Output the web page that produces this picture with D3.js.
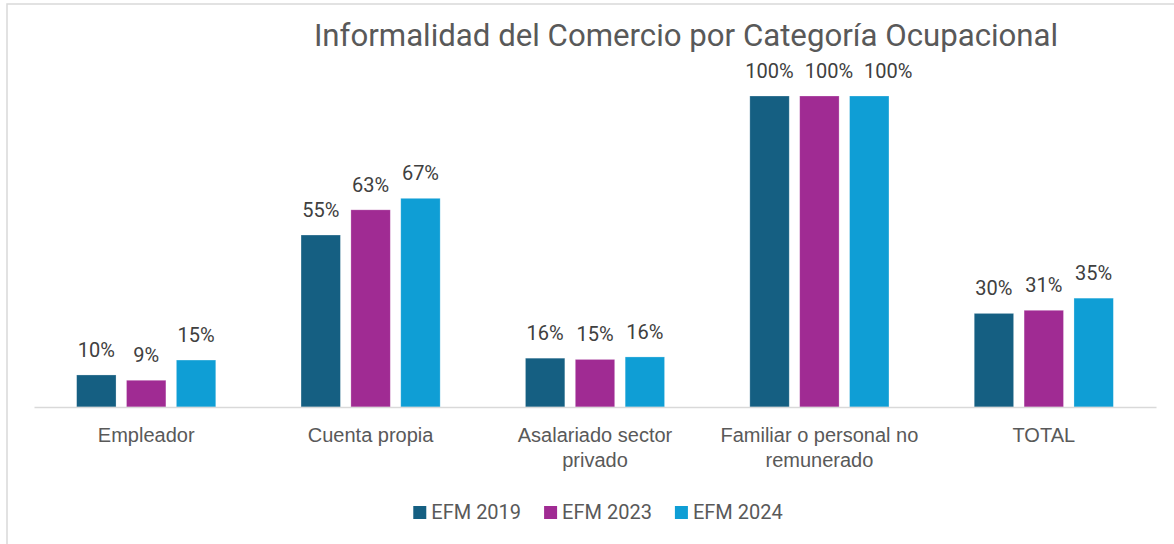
<!DOCTYPE html>
<html>
<head>
<meta charset="utf-8">
<script src="https://cdn.jsdelivr.net/npm/d3@7"></script>
<style>
  html, body { margin: 0; padding: 0; background: #fff; }
  svg { display: block; font-family: Roboto, "Liberation Sans", sans-serif; }
</style>
</head>
<body>
<div id="wrapper"></div>
<script>
// chart data
const chartTitle = "Informalidad del Comercio por Categoría Ocupacional";
const categories = ["Empleador", "Cuenta propia", "Asalariado sector\nprivado", "Familiar o personal no\nremunerado", "TOTAL"];
const seriesNames = ["EFM 2019", "EFM 2023", "EFM 2024"];
const efm2019 = [0.103, 0.553, 0.157, 1.00, 0.301];
const efm2023 = [0.086, 0.634, 0.153, 1.00, 0.311];
const efm2024 = [0.151, 0.671, 0.161, 1.00, 0.350];
const seriesColors = ["#155F82", "#A02B93", "#0F9ED5"];

function buildChart() {
    const values = [efm2019, efm2023, efm2024];

    const dimension = {
        width: 1174,
        height: 544,
        margin: { top: 96, left: 34, bottom: 137, right: 18 }
    };
    dimension.boundedWidth = dimension.width - dimension.margin.left - dimension.margin.right;
    dimension.boundedHeight = dimension.height - dimension.margin.top - dimension.margin.bottom;

    const svg = d3.select("#wrapper").append("svg")
        .attr("width", dimension.width)
        .attr("height", dimension.height);

    // light frame of the chart area (runs off the right / bottom edge)
    svg.append("rect")
        .attr("x", 7).attr("y", 4)
        .attr("width", dimension.width + 20).attr("height", dimension.height + 20)
        .attr("fill", "none")
        .attr("stroke", "#d9d9d9")
        .attr("stroke-width", 1.5);

    svg.append("text")
        .attr("x", 686)
        .attr("y", 46)
        .attr("text-anchor", "middle")
        .attr("font-size", 31.2)
        .attr("fill", "#595959")
        .text(chartTitle);

    const bounded = svg.append("g")
        .attr("transform", `translate(${dimension.margin.left},${dimension.margin.top})`);

    const xScaler = d3.scaleBand()
        .domain(categories)
        .range([0, dimension.boundedWidth])
        .paddingInner(0.38)
        .paddingOuter(0.19);

    const xInner = d3.scaleBand()
        .domain(seriesNames)
        .range([0, xScaler.bandwidth()])
        .paddingInner(0.21);

    const yScaler = d3.scaleLinear()
        .domain([0, 1])
        .range([dimension.boundedHeight, 0]);

    const rows = [];
    categories.forEach((c, i) => {
        seriesNames.forEach((s, j) => {
            rows.push({ cat: c, series: s, color: seriesColors[j], v: values[j][i] });
        });
    });

    bounded.selectAll(".bar")
        .data(rows)
        .join("rect")
        .attr("class", "bar")
        .attr("x", d => xScaler(d.cat) + xInner(d.series))
        .attr("y", d => yScaler(d.v))
        .attr("width", xInner.bandwidth())
        .attr("height", d => yScaler(0) - yScaler(d.v))
        .attr("fill", d => d.color)
        .attr("stroke", "#ffffff")
        .attr("stroke-opacity", 0.35)
        .attr("stroke-width", 0.75);

    const labels = bounded.selectAll(".lbl")
        .data(rows)
        .join("text")
        .attr("class", "lbl")
        .attr("x", d => xScaler(d.cat) + xInner(d.series) + xInner.bandwidth() / 2)
        .attr("y", d => yScaler(d.v) - 18)
        .attr("text-anchor", "middle")
        .attr("font-size", 20)
        .attr("fill", "#404040")
        .text(d => d3.format(".0%")(d.v));

    // push labels apart when they would collide (like the spreadsheet does)
    let prev = null;
    labels.each(function(d) {
        const box = this.getBBox();
        if (prev && prev.cat === d.cat) {
            const vOverlap = box.y < prev.box.y + prev.box.height && prev.box.y < box.y + box.height;
            const minLeft = prev.box.x + prev.box.width + 11;
            if (vOverlap && box.x < minLeft) {
                const shift = minLeft - box.x;
                d3.select(this).attr("x", +d3.select(this).attr("x") + shift);
                box.x += shift;
            }
        }
        prev = { cat: d.cat, box: box };
    });

    // category axis
    const xAxis = d3.axisBottom(xScaler).tickSize(0).tickFormat("");
    const axisG = bounded.append("g")
        .attr("transform", `translate(0,${dimension.boundedHeight})`)
        .call(xAxis);
    axisG.select(".domain")
        .attr("stroke", "#d9d9d9")
        .attr("stroke-width", 1.5);

    axisG.selectAll(".tick").each(function(d) {
        const lines = d.split("\n");
        const t = d3.select(this).append("text")
            .attr("text-anchor", "middle")
            .attr("font-size", 20)
            .attr("fill", "#595959");
        lines.forEach((ln, k) => {
            t.append("tspan")
                .attr("x", 0)
                .attr("y", 35 + k * 25)
                .text(ln);
        });
    });

    // legend
    const legend = svg.append("g");
    let cursor = 0;
    seriesNames.forEach((s, j) => {
        const item = legend.append("g").attr("transform", `translate(${cursor},0)`);
        item.append("rect")
            .attr("x", 0).attr("y", -13)
            .attr("width", 13).attr("height", 13)
            .attr("fill", seriesColors[j]);
        const txt = item.append("text")
            .attr("x", 18)
            .attr("y", 0)
            .attr("font-size", 20)
            .attr("fill", "#595959")
            .text(s);
        cursor += 18 + txt.node().getComputedTextLength() + 23;
    });
    const legendWidth = cursor - 23;
    legend.attr("transform", `translate(${598 - legendWidth / 2},519)`);
}

buildChart();
</script>
</body>
</html>
